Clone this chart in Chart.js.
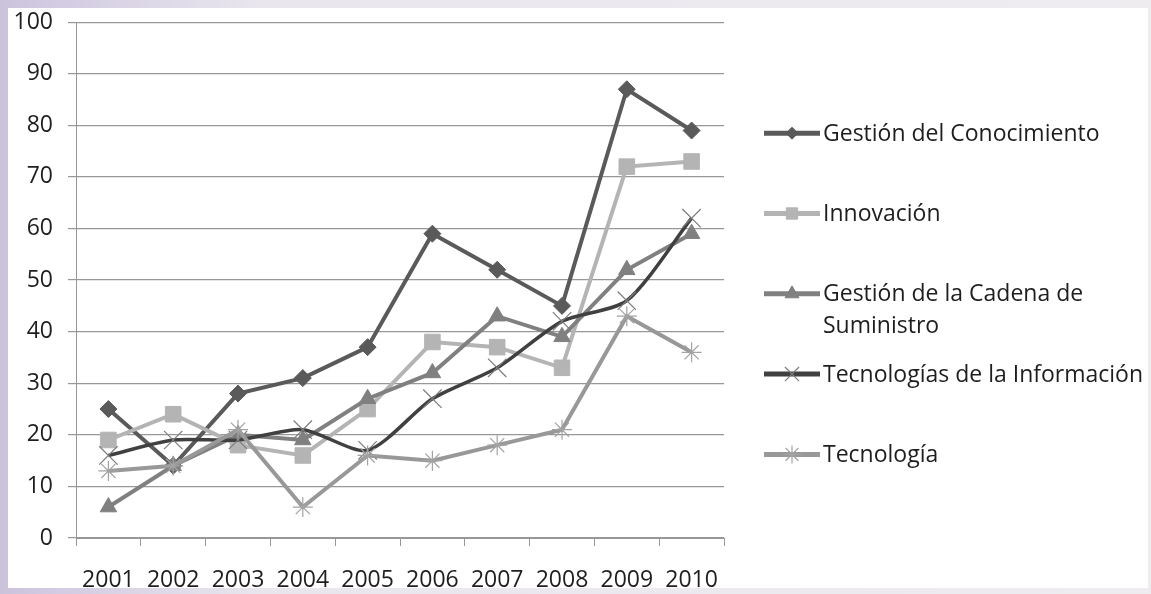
<!DOCTYPE html>
<html lang="es">
<head>
<meta charset="utf-8">
<title>Tendencias 2001–2010</title>
<script src="https://cdn.jsdelivr.net/npm/chart.js@4.4.1/dist/chart.umd.min.js"></script>
<style>
  html, body { margin: 0; padding: 0; }
  body {
    width: 1151px; height: 594px; overflow: hidden; position: relative;
    background: linear-gradient(to right, #cbc3dc 0px, #d3cce2 60px, #e9e6ee 260px, #eeecef 100%);
  }
  #panel {
    position: absolute; left: 8px; top: 8px; width: 1140px; height: 580px;
    background: #ffffff;
  }
  canvas { display: block; }
</style>
</head>
<body>
<div id="panel"><canvas id="chart" width="1140" height="580"></canvas></div>
<script>
// Years on the category axis
const years = ['2001', '2002', '2003', '2004', '2005', '2006', '2007', '2008', '2009', '2010'];

// One array per series
const gestionConocimiento    = [25, 14, 28, 31, 37, 59, 52, 45, 87, 79];
const innovacion             = [19, 24, 18, 16, 25, 38, 37, 33, 72, 73];
const cadenaSuministro       = [6, 14, 20, 19, 27, 32, 43, 39, 52, 59];
const tecnologiasInformacion = [16, 19, 19, 21, 17, 27, 33, 42, 46, 62];
const tecnologia             = [13, 14, 21, 6, 16, 15, 18, 21, 43, 36];

const seriesNames = [
  'Gestión del Conocimiento',
  'Innovación',
  'Gestión de la Cadena de Suministro',
  'Tecnologías de la Información',
  'Tecnología'
];

// Value axis range
const yMin = 0;
const yMax = 100;
const yStep = 10;

const FONT = "'Open Sans', 'Noto Sans', sans-serif";
const TEXT = '#1e1e1e';
const GRID = '#979797';

function series(label, data, color, style) {
  return Object.assign({
    label: label,
    data: data,
    borderColor: color,
    backgroundColor: color,
    pointBackgroundColor: color,
    pointBorderColor: color,
    borderWidth: 4,
    pointBorderWidth: 1,
    tension: 0,
    clip: false
  }, style);
}

const datasets = [
  series(seriesNames[0], gestionConocimiento, '#5a5a5a',
    { pointStyle: 'rectRot', pointRadius: 8.5, order: 4, legendRadius: 6 }),
  series(seriesNames[1], innovacion, '#b4b4b4',
    { pointStyle: 'rect', pointRadius: 11, order: 3, legendRadius: 8 }),
  series(seriesNames[2], cadenaSuministro, '#808080',
    { pointStyle: 'triangle', pointRadius: 9.5, order: 2, legendRadius: 8 }),
  series(seriesNames[3], tecnologiasInformacion, '#404040',
    { pointStyle: 'crossRot', pointRadius: 13, pointBorderColor: '#7c7c7c',
      pointBackgroundColor: '#7c7c7c', pointBorderWidth: 1.2, borderWidth: 3.5,
      tension: 0.25, order: 1, legendRadius: 10 }),
  series(seriesNames[4], tecnologia, '#989898',
    { pointStyle: 'star', pointRadius: 10, pointBorderColor: '#a3a3a3',
      pointBackgroundColor: '#a3a3a3', pointBorderWidth: 1.2, order: 0, legendRadius: 9 })
];

// Legend on the right: line sample with centred marker, text wrapped to the space left
const sideLegend = {
  id: 'sideLegend',
  afterDraw(chart) {
    const ctx = chart.ctx;
    const area = chart.chartArea;
    const x0 = area.right + 40;
    const x1 = area.right + 96;
    const tx = area.right + 99;
    const maxW = 330;
    const firstY = area.top + 111;
    const step = 80.3;
    const lineH = 32;
    ctx.save();
    ctx.font = '23px ' + FONT;
    ctx.textBaseline = 'middle';
    ctx.textAlign = 'left';
    chart.data.datasets.forEach((ds, i) => {
      const y = firstY + i * step;
      ctx.strokeStyle = ds.borderColor;
      ctx.lineWidth = 5;
      ctx.lineCap = 'butt';
      ctx.beginPath();
      ctx.moveTo(x0, y);
      ctx.lineTo(x1, y);
      ctx.stroke();
      ctx.fillStyle = ds.pointBackgroundColor;
      ctx.strokeStyle = ds.pointBorderColor;
      ctx.lineWidth = ds.pointBorderWidth;
      Chart.helpers.drawPoint(ctx, {
        pointStyle: ds.pointStyle, radius: ds.legendRadius, rotation: 0,
        borderWidth: ds.pointBorderWidth
      }, (x0 + x1) / 2, y);
      // word wrap
      const words = ds.label.split(' ');
      const lines = [];
      let cur = '';
      words.forEach(w => {
        const t = cur ? cur + ' ' + w : w;
        if (ctx.measureText(t).width > maxW && cur) { lines.push(cur); cur = w; }
        else cur = t;
      });
      lines.push(cur);
      ctx.fillStyle = TEXT;
      lines.forEach((ln, k) => ctx.fillText(ln, tx, y + 1 + k * lineH));
    });
    ctx.restore();
  }
};

new Chart(document.getElementById('chart'), {
  type: 'line',
  data: { labels: years, datasets: datasets },
  options: {
    responsive: false,
    animation: false,
    events: [],
    layout: { padding: { top: 0, right: 424, bottom: 0, left: 0 } },
    plugins: {
      legend: { display: false },
      tooltip: { enabled: false },
      title: { display: false }
    },
    scales: {
      x: {
        type: 'category',
        offset: true,
        grid: {
          offset: true,
          drawOnChartArea: false,
          drawTicks: true,
          tickLength: 8,
          tickColor: GRID,
          tickWidth: 1
        },
        border: { display: true, color: GRID, width: 1 },
        ticks: {
          color: TEXT,
          font: { family: FONT, size: 23 },
          padding: 21,
          maxRotation: 0,
          autoSkip: false
        },
        afterFit(scale) { scale.height = 50; }
      },
      y: {
        min: yMin,
        max: yMax,
        grid: {
          color: GRID,
          lineWidth: 1.2,
          drawTicks: true,
          tickLength: 8,
          tickColor: GRID
        },
        border: { display: true, color: GRID, width: 1 },
        ticks: {
          stepSize: yStep,
          color: TEXT,
          font: { family: FONT, size: 23 },
          padding: 15
        },
        afterFit(scale) {
          scale.width = 68;
          scale.paddingTop = 12;
          scale.paddingBottom = 0;
        }
      }
    }
  },
  plugins: [sideLegend]
});
</script>
</body>
</html>
